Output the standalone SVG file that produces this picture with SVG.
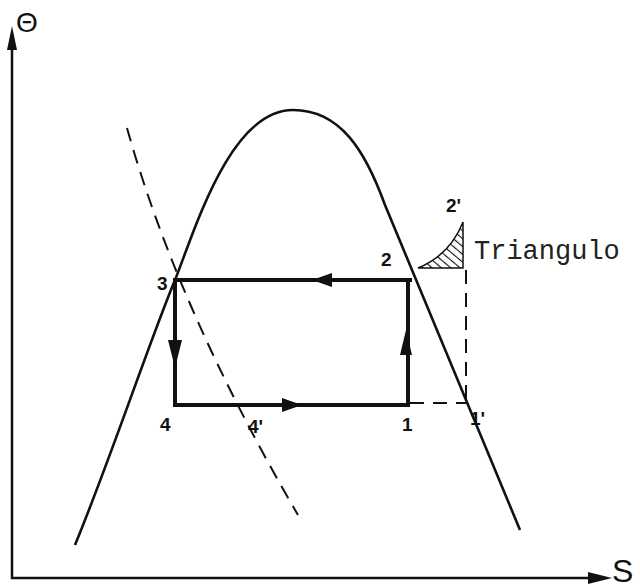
<svg xmlns="http://www.w3.org/2000/svg" width="640" height="588" viewBox="0 0 640 588">
<defs>
<style>
.curve{fill:none;stroke:#111;stroke-width:2.6}
.cyc{fill:none;stroke:#111;stroke-width:4;stroke-linecap:square}
.dash{fill:none;stroke:#111;stroke-width:2;stroke-dasharray:14 9}
.ax{fill:none;stroke:#111;stroke-width:2.5}
.lbl{font-family:"Liberation Sans",Arial,sans-serif;font-weight:bold;font-size:19px;fill:#111}
.mono{font-family:"Liberation Mono","Courier New",monospace;font-size:27px;fill:#222}
.ah{fill:#111}
</style>
<pattern id="hatch" patternUnits="userSpaceOnUse" width="6" height="6" patternTransform="rotate(-50)">
<line x1="0" y1="0" x2="0" y2="6" stroke="#111" stroke-width="2.2"/>
</pattern>
</defs>
<rect width="640" height="588" fill="#fff"/>
<g id="axes">
<path class="ax" d="M12 34 L12 578 L600 578"/>
<path class="ah" d="M12 26 L17 50 L7 50 Z"/>
<path class="ah" d="M612 578 L588 572 L588 584 Z"/>
<text x="27" y="32" font-family="Liberation Sans,Arial,sans-serif" font-size="28" text-anchor="middle" fill="#111">Θ</text>
<text x="612" y="582" font-family="Liberation Sans,Arial,sans-serif" font-size="32" fill="#111">S</text>
</g>
<g id="dome">
<path class="curve" d="M75 545 C110 460 150 340 175 280 C195 230 230 110 293 110 C340 110 365 150 385 205 L520 530"/>
</g>
<g id="dashed-line">
<path class="dash" d="M127 128 Q178 310 298 515"/>
</g>
<g id="triangle">
<path d="M418 268 Q450 255 463 222 L463 268 Z" fill="url(#hatch)" stroke="#111" stroke-width="1.5"/>
<text class="mono" x="474" y="259">Triangulo</text>
</g>
<g id="connectors">
<path class="cyc" d="M175 280 L410 280"/>
<path class="cyc" d="M408 280 L408 403"/>
<path class="cyc" d="M175 405 L408 405"/>
<path class="cyc" d="M175 280 L175 405"/>
<path class="ah" d="M312 280 L332 273 L332 287 Z"/>
<path class="ah" d="M175 368 L168 340 L182 340 Z"/>
<path class="ah" d="M302 405 L282 398 L282 412 Z"/>
<path class="ah" d="M406 330 L400 355 L412 355 Z"/>
<path class="dash" d="M410 403 L468 403" stroke-dasharray="10 7"/>
<path class="dash" d="M466 270 L466 403"/>
</g>
<g id="labels">
<text class="lbl" x="157" y="290">3</text>
<text class="lbl" x="381" y="266">2</text>
<text class="lbl" x="446" y="212">2'</text>
<text class="lbl" x="160" y="431">4</text>
<text class="lbl" x="248" y="433">4'</text>
<text class="lbl" x="402" y="431">1</text>
<text class="lbl" x="470" y="425">1'</text>
</g>
</svg>
